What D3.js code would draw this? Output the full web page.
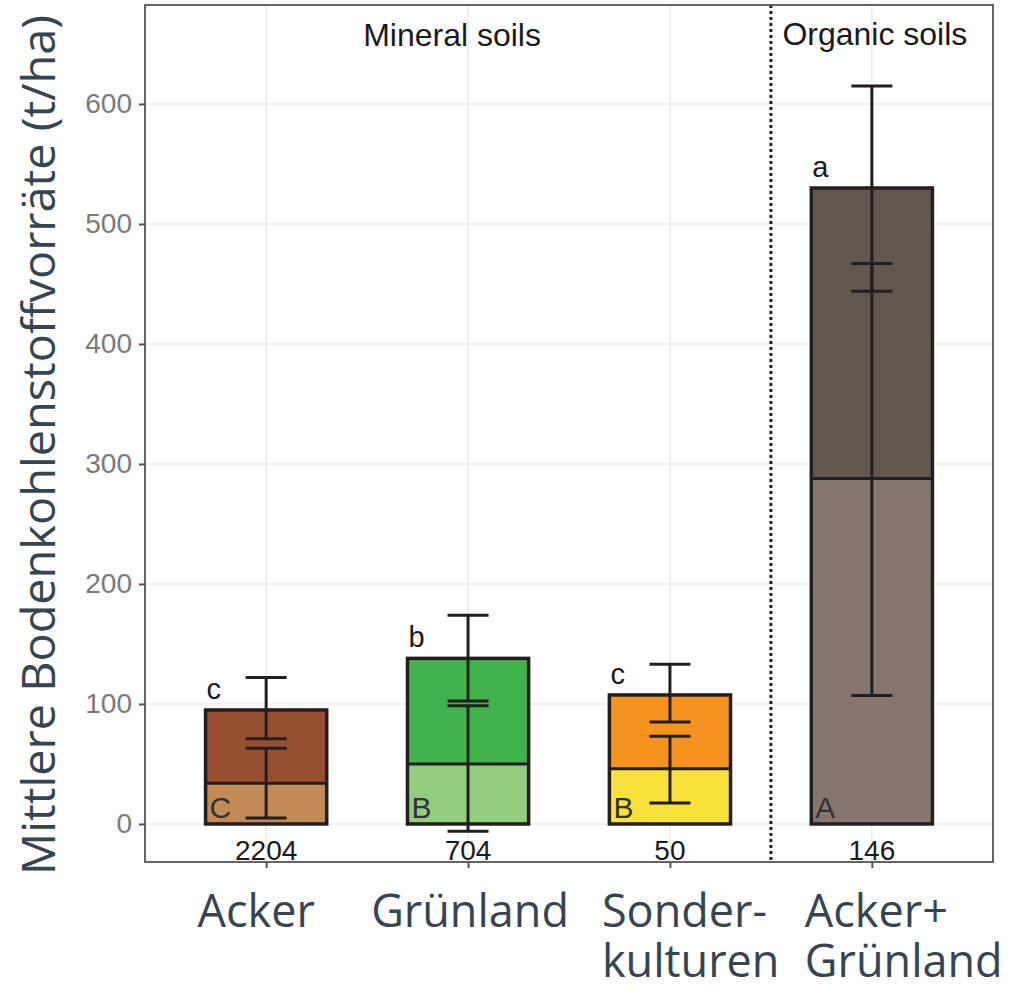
<!DOCTYPE html>
<html>
<head>
<meta charset="utf-8">
<script src="https://cdn.jsdelivr.net/npm/d3@7"></script>
<style>
  body { margin: 0; background: #fff; }
  svg { display: block; }
</style>
</head>
<body>
<svg width="1012" height="992"></svg>
<script>
// data
const categories = ["Acker", "Grünland", "Sonderkulturen", "Acker+Grünland"];
const labelLines = [["Acker"], ["Grünland"], ["Sonder-", "kulturen"], ["Acker+", "Grünland"]];
const lowerValues = [34, 50, 46, 288];
const totalValues = [95, 138, 107.5, 530];
const lowerErrLo = [5, -6, 17.5, 107];
const lowerErrHi = [63, 98.5, 73, 467];
const totalErrLo = [71, 102.5, 85, 444];
const totalErrHi = [122, 174, 133, 615];
const nLabels = ["2204", "704", "50", "146"];
const totalLetters = ["c", "b", "c", "a"];
const lowerLetters = ["C", "B", "B", "A"];
const upperColors = ["#974f2f", "#40b44a", "#f6921e", "#62574f"];
const lowerColors = ["#c18a57", "#93cd80", "#f9e13c", "#857670"];
const yTicks = [0, 100, 200, 300, 400, 500, 600];

let svg = d3.select("svg");
let pLeft = 145, pRight = 993, pTop = 5, pBottom = 862;
let dark = "#231f20";

let x = d3.scalePoint().domain(categories).range([pLeft, pRight]).padding(0.6);
let y = d3.scaleLinear().domain([-31.7, 682.5]).range([pBottom, pTop]);
let barW = x.step() * 0.6;

// grid
let grid = svg.append("g");
grid.selectAll("line.h").data(yTicks).enter().append("line")
  .attr("x1", pLeft).attr("x2", pRight)
  .attr("y1", d => y(d)).attr("y2", d => y(d))
  .attr("stroke", "#ebebeb").attr("stroke-width", 1.5);
grid.selectAll("line.v").data(categories).enter().append("line")
  .attr("x1", d => x(d)).attr("x2", d => x(d))
  .attr("y1", pTop).attr("y2", pBottom)
  .attr("stroke", "#ebebeb").attr("stroke-width", 1.5);

// axes
let yAxis = svg.append("g")
  .attr("transform", "translate(" + pLeft + ",0)")
  .call(d3.axisLeft(y).tickValues(yTicks).tickSize(6).tickPadding(7));
yAxis.select(".domain").remove();
yAxis.selectAll("line").attr("stroke", "#555").attr("stroke-width", 2);
yAxis.selectAll("text")
  .attr("font-family", "Liberation Sans, Arial, sans-serif")
  .attr("font-size", 28).attr("fill", "#7a7a7a");

let xAxis = svg.append("g")
  .attr("transform", "translate(0," + pBottom + ")")
  .call(d3.axisBottom(x).tickSize(6).tickFormat(""));
xAxis.select(".domain").remove();
xAxis.selectAll("line").attr("stroke", "#555").attr("stroke-width", 2);

// bars
let bars = svg.append("g").selectAll("g")
  .data(categories).enter().append("g");

bars.append("rect")
  .attr("x", d => x(d) - barW / 2)
  .attr("width", barW)
  .attr("y", (d, i) => y(lowerValues[i]))
  .attr("height", (d, i) => y(0) - y(lowerValues[i]))
  .attr("fill", (d, i) => lowerColors[i]);

bars.append("rect")
  .attr("x", d => x(d) - barW / 2)
  .attr("width", barW)
  .attr("y", (d, i) => y(totalValues[i]))
  .attr("height", (d, i) => y(lowerValues[i]) - y(totalValues[i]))
  .attr("fill", (d, i) => upperColors[i]);

// segment divider
bars.append("line")
  .attr("x1", d => x(d) - barW / 2).attr("x2", d => x(d) + barW / 2)
  .attr("y1", (d, i) => y(lowerValues[i])).attr("y2", (d, i) => y(lowerValues[i]))
  .attr("stroke", dark).attr("stroke-width", 3);

// outline
bars.append("rect")
  .attr("x", d => x(d) - barW / 2)
  .attr("width", barW)
  .attr("y", (d, i) => y(totalValues[i]))
  .attr("height", (d, i) => y(0) - y(totalValues[i]))
  .attr("fill", "none")
  .attr("stroke", dark).attr("stroke-width", 3.5);

// error bars
let capW = 41;
function errorBar(lo, hi) {
  bars.append("line")
    .attr("x1", d => x(d)).attr("x2", d => x(d))
    .attr("y1", (d, i) => y(lo[i])).attr("y2", (d, i) => y(hi[i]))
    .attr("stroke", dark).attr("stroke-width", 3);
  [lo, hi].forEach(arr => {
    bars.append("line")
      .attr("x1", d => x(d) - capW / 2).attr("x2", d => x(d) + capW / 2)
      .attr("y1", (d, i) => y(arr[i])).attr("y2", (d, i) => y(arr[i]))
      .attr("stroke", dark).attr("stroke-width", 3);
  });
}
errorBar(lowerErrLo, lowerErrHi);
errorBar(totalErrLo, totalErrHi);

// letters
let annoFont = "Liberation Sans, Arial, sans-serif";
bars.append("text")
  .attr("x", d => x(d) - barW / 2 + 1)
  .attr("y", (d, i) => y(totalValues[i]) - 11)
  .attr("font-family", annoFont).attr("font-size", 29).attr("fill", "#1a1a1a")
  .text((d, i) => totalLetters[i]);
bars.append("text")
  .attr("x", d => x(d) - barW / 2 + 4)
  .attr("y", y(0) - 6)
  .attr("font-family", annoFont).attr("font-size", 30).attr("fill", "#333")
  .text((d, i) => lowerLetters[i]);
bars.append("text")
  .attr("x", d => x(d))
  .attr("y", pBottom - 2)
  .attr("text-anchor", "middle")
  .attr("font-family", annoFont).attr("font-size", 28).attr("fill", "#1a1a1a")
  .text((d, i) => nLabels[i]);

// separator between mineral and organic soils
let sepX = x(categories[2]) + x.step() / 2;
svg.append("line")
  .attr("x1", sepX).attr("x2", sepX)
  .attr("y1", pTop).attr("y2", pBottom)
  .attr("stroke", dark).attr("stroke-width", 3)
  .attr("stroke-dasharray", "3,3");

svg.append("text")
  .attr("x", (x(categories[0]) + x(categories[2])) / 2 - 16)
  .attr("y", 46)
  .attr("text-anchor", "middle")
  .attr("font-family", annoFont).attr("font-size", 32).attr("fill", "#1a1a1a")
  .text("Mineral soils");
svg.append("text")
  .attr("x", x(categories[3]) + 3)
  .attr("y", 45)
  .attr("text-anchor", "middle")
  .attr("font-family", annoFont).attr("font-size", 32).attr("fill", "#1a1a1a")
  .text("Organic soils");

// panel border
svg.append("rect")
  .attr("x", pLeft).attr("y", pTop)
  .attr("width", pRight - pLeft).attr("height", pBottom - pTop)
  .attr("fill", "none").attr("stroke", "#555").attr("stroke-width", 1.8);

// category labels, one text per line
let labelFont = "Open Sans, Noto Sans, sans-serif";
let labelDx = [-10, 2, -68, -67];
let labelAnchor = ["middle", "middle", "start", "start"];
categories.forEach((c, i) => {
  labelLines[i].forEach((line, j) => {
    svg.append("text")
      .attr("x", x(c) + labelDx[i])
      .attr("y", 927 + j * 50)
      .attr("text-anchor", labelAnchor[i])
      .attr("font-family", labelFont).attr("font-size", 45).attr("fill", "#36454f")
      .text(line);
  });
});

// y title
svg.append("text")
  .attr("transform", "translate(55,445) rotate(-90)")
  .attr("text-anchor", "middle")
  .attr("font-family", labelFont).attr("font-size", 45).attr("fill", "#36454f")
  .attr("textLength", 860).attr("lengthAdjust", "spacingAndGlyphs")
  .text("Mittlere Bodenkohlenstoffvorräte (t/ha)");
</script>
</body>
</html>
